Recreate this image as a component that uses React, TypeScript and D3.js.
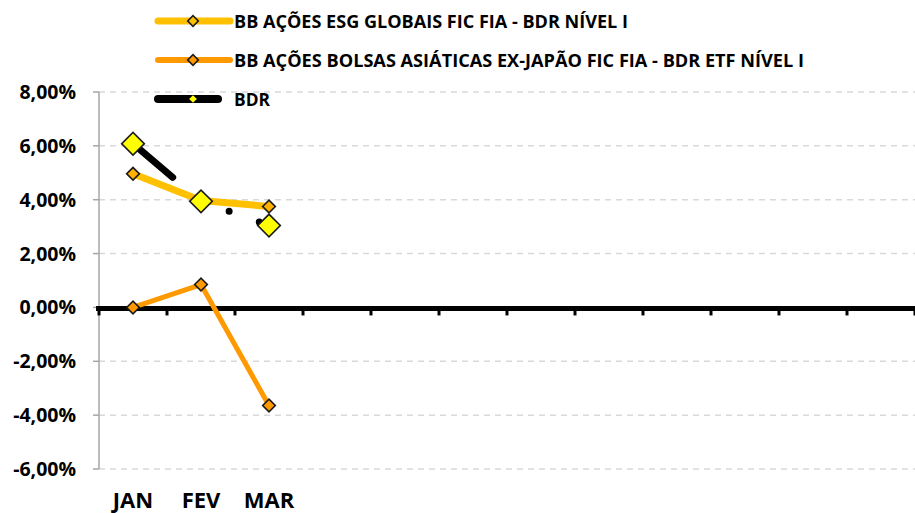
import * as d3 from "d3";
import React, { useEffect, useRef } from "react";

const months = ["JAN", "FEV", "MAR", "ABR", "MAI", "JUN", "JUL", "AGO", "SET", "OUT", "NOV", "DEZ"];
const labeled = ["JAN", "FEV", "MAR"];
const esg = [4.96, 3.97, 3.75];
const asia = [0.0, 0.85, -3.64];
const bdr = [6.08, 3.94, 3.04];
const yTicks = [-6, -4, -2, 0, 2, 4, 6, 8];

const seriesNames = [
  "BB AÇÕES ESG GLOBAIS FIC FIA - BDR NÍVEL I",
  "BB AÇÕES BOLSAS ASIÁTICAS EX-JAPÃO FIC FIA - BDR ETF NÍVEL I",
  "BDR",
];

const W = 915;
const H = 513;
const FONT = "'Open Sans', 'Noto Sans', sans-serif";

const App = () => {
  const ref = useRef(null);

  useEffect(() => {
    const svg = d3.select(ref.current).attr("width", W).attr("height", H);
    svg.selectAll("*").remove();

    const x = d3.scaleBand().domain(months).range([99, 915]);
    const y = d3.scaleLinear().domain([-6, 8]).range([469, 92]);
    const cx = (i) => x(months[i]) + x.bandwidth() / 2;

    // gridlines
    svg
      .append("g")
      .selectAll("line")
      .data(yTicks.filter((t) => t !== 0))
      .join("line")
      .attr("x1", 99)
      .attr("x2", W)
      .attr("y1", (d) => y(d))
      .attr("y2", (d) => y(d))
      .attr("stroke", "#d9d9d9")
      .attr("stroke-width", 1.5)
      .attr("stroke-dasharray", "6 5");

    // y axis
    svg
      .append("line")
      .attr("x1", 99)
      .attr("x2", 99)
      .attr("y1", y(8))
      .attr("y2", y(-6))
      .attr("stroke", "#a6a6a6")
      .attr("stroke-width", 1.5);
    svg
      .append("g")
      .selectAll("line")
      .data(yTicks)
      .join("line")
      .attr("x1", 93)
      .attr("x2", 99)
      .attr("y1", (d) => y(d))
      .attr("y2", (d) => y(d))
      .attr("stroke", "#a6a6a6")
      .attr("stroke-width", 1.5);
    svg
      .append("g")
      .selectAll("text")
      .data(yTicks)
      .join("text")
      .attr("x", 76)
      .attr("y", (d) => y(d) + 7)
      .attr("text-anchor", "end")
      .attr("font-family", FONT)
      .attr("font-weight", "bold")
      .attr("font-size", 19.5)
      .text((d) => d3.format(".2f")(d).replace(".", ",").replace("−", "-") + "%");

    // zero line + category ticks
    svg
      .append("line")
      .attr("x1", 96)
      .attr("x2", W)
      .attr("y1", y(0) + 1)
      .attr("y2", y(0) + 1)
      .attr("stroke", "#000")
      .attr("stroke-width", 5);
    svg
      .append("g")
      .selectAll("line")
      .data(d3.range(months.length + 1))
      .join("line")
      .attr("x1", (i) => 99 + i * x.bandwidth())
      .attr("x2", (i) => 99 + i * x.bandwidth())
      .attr("y1", y(0))
      .attr("y2", y(0) + 8)
      .attr("stroke", "#000")
      .attr("stroke-width", 3);

    svg
      .append("g")
      .selectAll("text")
      .data(labeled)
      .join("text")
      .attr("x", (d, i) => cx(i))
      .attr("y", 508)
      .attr("text-anchor", "middle")
      .attr("font-family", FONT)
      .attr("font-weight", "bold")
      .attr("font-size", 22)
      .text((d) => d);

    const line = d3
      .line()
      .x((d, i) => cx(i))
      .y((d) => y(d));

    const diamond = (g, data, size, fill) => {
      g.append("g")
        .selectAll("path")
        .data(data)
        .join("path")
        .attr("d", d3.symbol(d3.symbolSquare, size * size)())
        .attr("transform", (d, i) => `translate(${cx(i)},${y(d)}) rotate(45)`)
        .attr("fill", fill)
        .attr("stroke", "#1a1a1a")
        .attr("stroke-width", 1.6);
    };

    // ESG
    svg
      .append("path")
      .attr("d", line(esg))
      .attr("fill", "none")
      .attr("stroke", "#ffc000")
      .attr("stroke-width", 7)
      .attr("stroke-linecap", "round")
      .attr("stroke-linejoin", "round");
    diamond(svg, esg, 9, "#ffb000");

    // Asia
    svg
      .append("path")
      .attr("d", line(asia))
      .attr("fill", "none")
      .attr("stroke", "#ff9900")
      .attr("stroke-width", 5)
      .attr("stroke-linecap", "round")
      .attr("stroke-linejoin", "round");
    diamond(svg, asia, 9, "#ff9900");

    // BDR
    svg
      .append("path")
      .attr("d", line(bdr))
      .attr("fill", "none")
      .attr("stroke", "#000")
      .attr("stroke-width", 7)
      .attr("stroke-linecap", "round")
      .attr("stroke-dasharray", "52 35 0 32 0 32 0 400");
    diamond(svg, bdr, 16, "#ffff00");

    // legend
    const legY = [21, 60, 99];
    const legEnd = [230, 230, 218];
    const legColor = ["#ffc000", "#ff9900", "#000"];
    const legWidth = [7, 6, 8];
    const legFill = ["#ffc000", "#ff9900", "#ffff00"];
    const legText = [394, 570, 36];
    seriesNames.forEach((name, k) => {
      const g = svg.append("g");
      g.append("line")
        .attr("x1", 158)
        .attr("x2", legEnd[k])
        .attr("y1", legY[k])
        .attr("y2", legY[k])
        .attr("stroke", legColor[k])
        .attr("stroke-width", legWidth[k])
        .attr("stroke-linecap", "round");
      g.append("path")
        .attr("d", d3.symbol(d3.symbolSquare, k === 2 ? 30 : 56)())
        .attr("transform", `translate(193,${legY[k]}) rotate(45)`)
        .attr("fill", legFill[k])
        .attr("stroke", k === 2 ? "none" : "#1a1a1a")
        .attr("stroke-width", 1.6);
      g.append("text")
        .attr("x", 234)
        .attr("y", legY[k] + 7)
        .attr("font-family", FONT)
        .attr("font-weight", "bold")
        .attr("font-size", 17.5)
        .attr("textLength", legText[k])
        .attr("lengthAdjust", "spacingAndGlyphs")
        .text(name);
    });
  }, []);

  return <svg ref={ref} style={{ position: "absolute", left: 0, top: 0 }} />;
};

export default App;
